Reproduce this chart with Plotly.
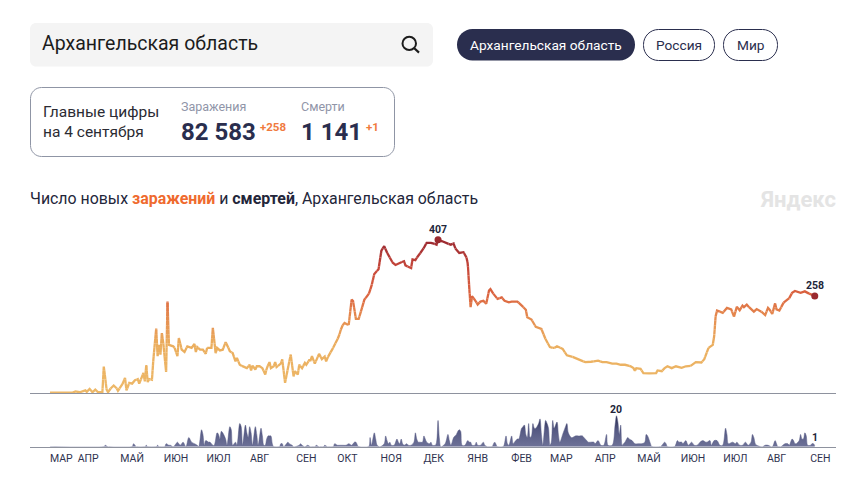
import pandas as pd
import plotly.graph_objects as go

W, H = 857, 481
START = pd.Timestamp("2020-03-13")

case_days = [0,4,8,12,16,18,21,25,26,28,30,32,34,37,38,40,41,42,45,47,48,51,53,54,56,58,60,62,63,66,67,68,69,70,72,73,75,76,77,78,79,80,82,83,84,87,88,90,91,93,95,97,100,102,103,104,106,108,110,111,114,115,117,118,120,122,124,125,127,129,131,132,134,137,139,141,142,143,145,146,148,150,152,153,155,156,158,159,160,163,164,166,168,170,172,173,175,176,178,180,181,183,184,185,187,190,192,194,195,197,199,201,204,206,208,210,211,213,214,216,218,220,222,225,227,229,232,234,236,238,242,244,247,250,251,253,255,256,258,260,263,266,269,271,273,274,277,279,283,285,286,289,292,294,295,296,297,298,300,302,304,306,308,310,311,313,316,319,321,324,326,330,333,336,337,340,343,347,350,353,356,358,362,365,369,373,378,382,384,387,390,393,397,400,403,406,410,412,413,414,417,419,423,428,429,432,434,436,439,442,446,449,452,456,460,462,465,468,469,470,471,475,478,481,483,485,487,489,490,492,495,497,499,502,505,507,508,510,512,513,515,518,522,524,526,530,533,537,540]
case_values = [1,1,1,1,1,4,2,7,3,11,2,9,2,2,70,9,2,9,20,13,6,22,40,7,27,25,34,37,25,53,31,74,29,37,35,89,171,98,128,102,159,133,56,243,128,124,120,98,146,115,109,124,120,130,109,122,115,115,104,120,120,173,106,120,113,115,135,128,111,106,84,93,75,69,66,75,60,73,62,71,71,66,49,66,82,66,71,82,69,78,89,27,66,102,44,58,49,75,66,80,75,87,87,98,78,104,90,97,84,102,113,128,150,177,186,182,183,248,244,197,197,222,248,262,284,316,329,378,390,373,346,340,346,350,339,335,332,355,353,365,379,399,399,397,394,407,403,399,394,397,385,372,374,361,345,283,228,257,248,235,243,245,237,272,276,264,250,254,245,241,243,243,233,221,201,195,176,170,142,122,119,124,117,100,96,89,82,83,84,86,82,82,78,78,75,75,71,66,59,66,64,53,52,53,60,58,66,71,66,71,67,71,71,82,81,90,120,128,151,204,219,213,226,222,203,229,220,232,228,235,222,216,223,217,207,226,222,210,238,222,219,240,252,266,271,266,270,262,258]

death_days = [0,38,39,41,58,59,61,67,68,69,75,76,77,81,82,84,85,87,89,90,92,94,96,98,100,102,104,105,107,108,109,110,112,113,115,116,118,119,120,121,122,124,125,127,128,129,131,132,134,135,136,138,139,140,141,142,143,145,146,147,149,150,151,152,153,154,155,156,157,158,162,163,164,165,167,168,169,171,172,176,177,178,180,182,184,187,188,190,193,194,196,200,201,203,205,207,209,211,213,215,216,218,225,226,227,229,230,231,233,236,237,238,239,240,241,243,245,246,247,248,249,250,252,253,255,257,258,259,260,261,263,264,265,266,268,269,270,272,273,274,275,276,279,281,282,283,284,285,287,288,289,290,291,293,295,296,297,298,300,301,302,304,306,307,309,312,314,316,320,322,323,324,326,327,328,330,331,333,334,335,336,337,338,339,340,341,342,343,345,346,347,348,350,351,352,353,354,355,356,358,359,360,362,364,365,366,368,369,371,373,374,376,377,379,380,382,384,385,387,389,391,393,394,397,399,400,401,402,403,404,405,406,408,409,411,413,416,418,420,421,422,424,425,431,433,434,435,436,441,443,444,446,447,449,450,451,453,455,457,459,461,463,464,466,467,469,471,473,475,477,478,479,482,484,485,487,489,491,492,493,495,496,497,498,499,503,505,507,510,512,513,514,516,519,521,522,524,525,526,527,529,530,531,532,533,534,535,537,538,539,540]
death_values = [0,0,1,0,0,2,0,0,1,0,0,1,0,0,2,1,1,0,2,3,1,3,0,6,3,2,1,0,11,8,1,4,3,3,1,1,9,8,5,10,9,5,1,13,11,1,3,1,15,13,1,14,9,6,13,9,1,13,8,1,12,7,1,1,5,7,7,7,2,0,0,2,2,0,2,3,2,1,0,1,2,1,0,1,0,0,1,0,0,1,0,0,2,1,1,1,1,2,1,3,3,0,0,6,1,9,5,1,0,2,7,4,2,3,1,1,5,3,2,5,2,1,2,1,1,3,9,5,3,3,3,7,5,3,2,3,1,1,3,17,5,0,2,8,4,1,3,6,8,10,11,10,1,1,4,3,3,1,1,3,1,1,3,1,0,0,3,0,0,7,2,1,7,2,3,5,5,12,13,14,8,6,15,6,7,15,12,12,15,18,8,1,17,15,12,1,3,17,12,16,8,3,8,13,15,9,6,6,7,7,7,7,6,4,3,3,3,2,4,1,1,8,1,1,14,20,16,8,14,1,2,3,6,5,4,2,2,2,3,8,7,2,0,0,2,3,2,0,0,4,3,3,2,4,2,1,3,1,1,3,4,3,3,4,1,4,4,1,1,12,8,2,3,2,3,1,1,3,2,1,3,8,6,2,1,0,1,1,0,4,2,0,0,2,2,1,5,4,2,2,4,8,5,5,9,7,1,1,2,2,1]

tick_dates = ["2020-03-21","2020-04-09","2020-05-10","2020-06-10","2020-07-10","2020-08-08","2020-09-10","2020-10-09","2020-11-09","2020-12-09","2021-01-09","2021-02-09","2021-03-09","2021-04-09","2021-05-10","2021-06-10","2021-07-10","2021-08-08","2021-09-08"]
tick_labels = ["МАР","АПР","МАЙ","ИЮН","ИЮЛ","АВГ","СЕН","ОКТ","НОЯ","ДЕК","ЯНВ","ФЕВ","МАР","АПР","МАЙ","ИЮН","ИЮЛ","АВГ","СЕН"]

case_peak_day, case_peak = 274, 407
case_last_day, case_last = 540, 258
death_peak_day, death_peak = 400, 20
death_last_day, death_last = 540, 1

COLOR_STOPS = [(0,(237,184,104)),(130,(235,174,94)),(200,(229,140,80)),(260,(220,101,64)),(330,(200,72,58)),(400,(158,43,49))]
BIN = 12

def day_to_date(d):
    return (START + pd.Timedelta(days=float(d))).isoformat()

def color_for(v):
    for (a, ca), (b, cb) in zip(COLOR_STOPS, COLOR_STOPS[1:]):
        if v <= b:
            t = max(0, (v - a) / (b - a))
            return "rgb(%d,%d,%d)" % tuple(round(p + (q - p) * t) for p, q in zip(ca, cb))
    return "rgb(%d,%d,%d)" % COLOR_STOPS[-1][1]

def gradient_runs(days, vals):
    """Group the line's pieces by colour band so it can fade with the value."""
    runs = {}
    for (d0, v0), (d1, v1) in zip(zip(days, vals), zip(days[1:], vals[1:])):
        lo, hi = sorted((v0, v1))
        cuts = [k * BIN for k in range(int(lo // BIN) + 1, int(hi // BIN) + 1) if lo < k * BIN < hi]
        if v0 > v1:
            cuts.reverse()
        pts = [(d0, v0)] + [(d0 + (c - v0) / (v1 - v0) * (d1 - d0), c) for c in cuts] + [(d1, v1)]
        for (a, va), (b, vb) in zip(pts, pts[1:]):
            band = int(((va + vb) / 2) // BIN)
            xs, ys = runs.setdefault(band, ([], []))
            if xs and xs[-1] == day_to_date(a) and ys[-1] == va:
                pass
            else:
                if xs:
                    xs.append(None); ys.append(None)
                xs.append(day_to_date(a)); ys.append(va)
            xs.append(day_to_date(b)); ys.append(vb)
    return runs

def px(x): return x / W
def py(y): return 1 - y / H

def rrect(x0, y0, x1, y1, r, fill=None, line=None, lw=1):
    k = r * 0.45
    p = [f"M{px(x0+r)},{py(y0)}", f"L{px(x1-r)},{py(y0)}",
         f"C{px(x1-k)},{py(y0)} {px(x1)},{py(y0+k)} {px(x1)},{py(y0+r)}",
         f"L{px(x1)},{py(y1-r)}",
         f"C{px(x1)},{py(y1-k)} {px(x1-k)},{py(y1)} {px(x1-r)},{py(y1)}",
         f"L{px(x0+r)},{py(y1)}",
         f"C{px(x0+k)},{py(y1)} {px(x0)},{py(y1-k)} {px(x0)},{py(y1-r)}",
         f"L{px(x0)},{py(y0+r)}",
         f"C{px(x0)},{py(y0+k)} {px(x0+k)},{py(y0)} {px(x0+r)},{py(y0)}", "Z"]
    return dict(type="path", xref="paper", yref="paper", path=" ".join(p),
                fillcolor=fill or "rgba(0,0,0,0)",
                line=dict(color=line or "rgba(0,0,0,0)", width=lw if line else 0), layer="below")

NAVY = "#2a2e4e"
FONT = "Roboto"

def txt(x, y, s, size, color=NAVY, anchor="left", family=FONT):
    return dict(xref="paper", yref="paper", x=px(x), y=py(y), text=s, showarrow=False,
                xanchor=anchor, yanchor="middle", font=dict(size=size, color=color, family=family),
                xshift=0, yshift=0, borderpad=0, borderwidth=0)

fig = go.Figure()

for band, (xs, ys) in sorted(gradient_runs(case_days, case_values).items()):
    fig.add_trace(go.Scatter(x=xs, y=ys, mode="lines", xaxis="x", yaxis="y", hoverinfo="skip",
                             line=dict(color=color_for((band + 0.5) * BIN), width=2.3), showlegend=False))

fig.add_trace(go.Scatter(x=[day_to_date(case_peak_day), day_to_date(case_last_day)], y=[case_peak, case_last],
                         mode="markers", xaxis="x", yaxis="y", hoverinfo="skip", showlegend=False,
                         marker=dict(color="#9a2a2f", size=7)))

fig.add_trace(go.Scatter(x=[day_to_date(d) for d in death_days], y=death_values, mode="lines",
                         xaxis="x2", yaxis="y2", hoverinfo="skip", showlegend=False,
                         line=dict(color="#5a5e88", width=0.5, shape="spline", smoothing=0.9),
                         fill="tozeroy",
                         fillgradient=dict(type="vertical",
                                           colorscale=[[0, "#6f7399"], [0.55, "#555983"], [1, "#26294a"]])))

x_range = [day_to_date(-14.1), day_to_date(555)]
dom_x = [px(30), px(836)]
axis_line = dict(showline=True, linecolor="#8e929e", linewidth=1, showgrid=False, zeroline=False)

annotations = [
    txt(42, 43, "Архангельская область", 19.5, "#1c1c1c"),
    txt(43, 112, "Главные цифры", 15.5, "#2b2b33"),
    txt(43, 132, "на 4 сентября", 15.5, "#2b2b33"),
    txt(181, 106, "Заражения", 12.5, "#9095a8"),
    txt(301, 106, "Смерти", 12.5, "#9095a8"),
    txt(181, 132, "<b>82 583</b>", 24, NAVY),
    txt(301, 132, "<b>1 141</b>", 24, NAVY),
    txt(260, 127, "<b>+258</b>", 11.5, "#f07a3e"),
    txt(366, 127, "<b>+1</b>", 11.5, "#f07a3e"),
    txt(546, 45, "Архангельская область", 13.7, "#ffffff", "center"),
    txt(679, 45, "Россия", 13.7, NAVY, "center"),
    txt(750.5, 45, "Мир", 13.7, NAVY, "center"),
    txt(30, 198, 'Число новых <b><span style="color:#ef6a2e">заражений</span></b> и <b>смертей</b>, Архангельская область', 15.9, "#23263a"),
    txt(836, 199, "<b>Яндекс</b>", 22, "#e4e4e4", "right"),
    dict(x=day_to_date(case_peak_day), y=case_peak, xref="x", yref="y", text="<b>407</b>", showarrow=False,
         yanchor="bottom", yshift=2, font=dict(size=10.5, color="#22263a", family=FONT)),
    dict(x=day_to_date(case_last_day), y=case_last, xref="x", yref="y", text="<b>258</b>", showarrow=False,
         yanchor="bottom", yshift=2, font=dict(size=10.5, color="#22263a", family=FONT)),
    dict(x=day_to_date(death_peak_day), y=death_peak, xref="x2", yref="y2", text="<b>20</b>", showarrow=False,
         yanchor="bottom", yshift=-2, font=dict(size=10.5, color="#22263a", family=FONT)),
    dict(x=day_to_date(death_last_day), y=death_last, xref="x2", yref="y2", text="<b>1</b>", showarrow=False,
         yanchor="bottom", yshift=-1, font=dict(size=10.5, color="#22263a", family=FONT)),
]

shapes = [
    rrect(30, 23, 433, 66.5, 6, fill="#f4f4f4"),
    rrect(30.5, 87.5, 394.5, 156.5, 11, fill="#ffffff", line="#8f95a5"),
    rrect(457, 29, 635, 60.5, 15.5, fill=NAVY),
    rrect(643.5, 29.5, 714.5, 60.5, 15, line=NAVY),
    rrect(723.5, 29.5, 777.5, 60.5, 15, line=NAVY),
    dict(type="circle", xref="paper", yref="paper", x0=px(402.5), x1=px(416), y0=py(50), y1=py(36.8),
         line=dict(color="#1c1c1c", width=2)),
    dict(type="line", xref="paper", yref="paper", x0=px(414), x1=px(419), y0=py(48), y1=py(52.6),
         line=dict(color="#1c1c1c", width=2.2)),
]

fig.update_layout(
    width=W, height=H, autosize=False,
    margin=dict(l=0, r=0, t=0, b=0),
    paper_bgcolor="#ffffff", plot_bgcolor="#ffffff",
    font=dict(family=FONT, color=NAVY),
    showlegend=False,
    xaxis=dict(domain=dom_x, range=x_range, type="date", anchor="y", showticklabels=False, ticks="", **axis_line),
    yaxis=dict(domain=[py(393), py(234.9)], range=[0, 420], anchor="x", visible=False, fixedrange=True),
    xaxis2=dict(domain=dom_x, range=x_range, type="date", anchor="y2", ticks="outside", ticklen=2,
                tickcolor="rgba(0,0,0,0)", tickmode="array",
                tickvals=tick_dates, ticktext=tick_labels, tickangle=0,
                tickfont=dict(size=10.5, color="#2f3350", family=FONT), **axis_line),
    yaxis2=dict(domain=[py(446.8), py(409.6)], range=[0, 24], anchor="x2", visible=False, fixedrange=True),
    annotations=annotations,
    shapes=shapes,
)

fig.write_html("out.html", post_script="document.body.style.margin='0';document.body.style.overflow='hidden';",
               config=dict(displayModeBar=False))
